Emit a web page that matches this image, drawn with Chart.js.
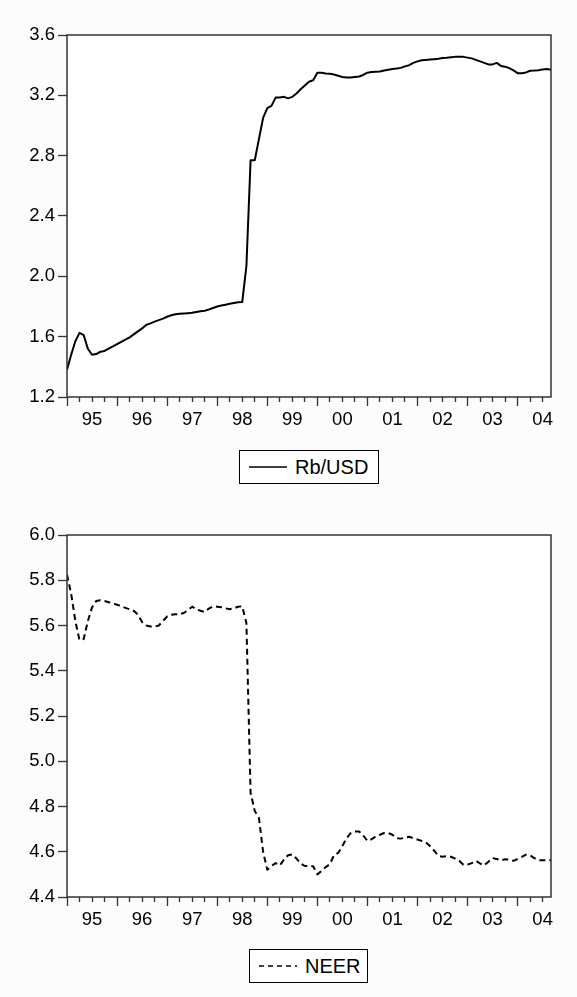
<!DOCTYPE html>
<html>
<head>
<meta charset="utf-8">
<script src="https://cdn.jsdelivr.net/npm/chart.js@4.4.1/dist/chart.umd.min.js"></script>
<style>
  html, body { margin: 0; padding: 0; background: #fcfcfc; }
  body { width: 577px; height: 997px; position: relative; overflow: hidden; font-family: "Liberation Sans", Arial, sans-serif; }
  .box { position: absolute; width: 577px; height: 440px; left: 0; }
  .legend { position: absolute; height: 32px; border: 1px solid #000; background: #fff; display: flex; align-items: center; font-size: 20px; color: #000; box-sizing: border-box; }
  .legend svg { margin-left: 9px; margin-right: 8px; }
</style>
</head>
<body>
<div class="box" style="top:0"><canvas id="rbChart"></canvas></div>
<div class="legend" style="top:450px; left:239px; width:140px; height:34px;">
  <svg width="38" height="4"><line x1="0" y1="2" x2="38" y2="2" stroke="#000" stroke-width="1.4"/></svg><span>Rb/USD</span>
</div>
<div class="box" style="top:500px"><canvas id="neerChart"></canvas></div>
<div class="legend" style="top:949px; left:249px; width:119px; height:34px;">
  <svg width="38" height="4"><line x1="0" y1="2" x2="38" y2="2" stroke="#000" stroke-width="1.4" stroke-dasharray="5,4"/></svg><span>NEER</span>
</div>
<script>
// monthly observations, 1995M01 .. 2004M09
const yearLabels = ['95', '96', '97', '98', '99', '00', '01', '02', '03', '04'];

const rbUsd = [
  1.38, 1.48, 1.57, 1.625, 1.61, 1.52, 1.48, 1.485, 1.50, 1.505, 1.52, 1.535,
  1.55, 1.565, 1.58, 1.595, 1.615, 1.635, 1.655, 1.678, 1.688, 1.70, 1.71, 1.72,
  1.732, 1.742, 1.748, 1.752, 1.754, 1.756, 1.758, 1.764, 1.768, 1.772, 1.78, 1.79,
  1.80, 1.806, 1.812, 1.818, 1.823, 1.828, 1.83, 2.07, 2.77, 2.77, 2.91, 3.05,
  3.115, 3.13, 3.185, 3.185, 3.19, 3.18, 3.19, 3.212, 3.24, 3.265, 3.29, 3.30,
  3.35, 3.35, 3.345, 3.343, 3.338, 3.33, 3.322, 3.318, 3.318, 3.322, 3.325, 3.335,
  3.35, 3.355, 3.357, 3.358, 3.365, 3.37, 3.375, 3.378, 3.382, 3.392, 3.40, 3.415,
  3.425, 3.432, 3.435, 3.438, 3.44, 3.442, 3.447, 3.449, 3.452, 3.455, 3.456, 3.455,
  3.45, 3.445, 3.435, 3.425, 3.415, 3.405, 3.405, 3.415, 3.395, 3.39, 3.38, 3.365,
  3.347, 3.347, 3.352, 3.363, 3.364, 3.367, 3.372, 3.374, 3.369
];

const neer = [
  5.825, 5.74, 5.62, 5.535, 5.54, 5.62, 5.68, 5.708, 5.712, 5.708, 5.703, 5.698,
  5.692, 5.686, 5.678, 5.672, 5.665, 5.648, 5.615, 5.60, 5.596, 5.595, 5.60, 5.62,
  5.64, 5.648, 5.65, 5.65, 5.655, 5.668, 5.683, 5.672, 5.665, 5.66, 5.675, 5.685,
  5.683, 5.681, 5.676, 5.672, 5.676, 5.683, 5.685, 5.61, 4.86, 4.78, 4.75, 4.60,
  4.52, 4.537, 4.55, 4.54, 4.565, 4.585, 4.588, 4.57, 4.548, 4.537, 4.537, 4.536,
  4.50, 4.515, 4.532, 4.545, 4.585, 4.595, 4.625, 4.66, 4.682, 4.69, 4.69, 4.672,
  4.648, 4.655, 4.668, 4.675, 4.683, 4.683, 4.675, 4.66, 4.658, 4.662, 4.666, 4.66,
  4.654, 4.648, 4.642, 4.625, 4.605, 4.582, 4.578, 4.58, 4.578, 4.57, 4.56, 4.543,
  4.543, 4.55, 4.56, 4.548, 4.54, 4.556, 4.572, 4.568, 4.562, 4.567, 4.565, 4.56,
  4.568, 4.577, 4.587, 4.584, 4.572, 4.563, 4.562, 4.562, 4.562
];

const rbTicks = { min: 1.2, max: 3.6, step: 0.4 };
const neerTicks = { min: 4.4, max: 6.0, step: 0.2 };

const tickFont = { family: '"Liberation Sans", Arial, sans-serif', size: 18.5 };

// white plot area + box frame
const framePlugin = {
  id: 'frame',
  beforeDraw(chart) {
    const { ctx, chartArea: a } = chart;
    ctx.save();
    ctx.fillStyle = '#fff';
    ctx.fillRect(a.left, a.top, a.right - a.left, a.bottom - a.top);
    ctx.restore();
  },
  afterDraw(chart) {
    const { ctx, chartArea: a } = chart;
    ctx.save();
    ctx.strokeStyle = '#333';
    ctx.lineWidth = 1.5;
    ctx.strokeRect(a.left, a.top, a.right - a.left, a.bottom - a.top);
    ctx.restore();
  }
};

function makeChart(id, values, yt, dash) {
  const n = values.length;
  return new Chart(document.getElementById(id), {
    type: 'line',
    data: {
      datasets: [{
        data: values.map((v, i) => ({ x: i, y: v })),
        borderColor: '#000',
        borderWidth: 2,
        borderDash: dash,
        pointRadius: 0,
        tension: 0,
        borderJoinStyle: 'round'
      }]
    },
    options: {
      responsive: true,
      maintainAspectRatio: false,
      animation: false,
      events: [],
      layout: { padding: { top: 35, right: 26, left: 0, bottom: 0 } },
      plugins: { legend: { display: false }, tooltip: { enabled: false } },
      scales: {
        x: {
          type: 'linear',
          min: 0,
          max: n - 1,
          afterBuildTicks: (axis) => {
            const t = [];
            for (let i = 0; i < n; i += 3) t.push({ value: i });
            axis.ticks = t;
          },
          afterFit: (axis) => { axis.height = 43; },
          grid: {
            drawOnChartArea: false,
            tickLength: 9,
            tickColor: '#333',
            tickWidth: 1.3,
            tickBorderDash: (ctx) => (ctx.tick && ctx.tick.value % 12 === 0) ? [] : [5, 30]
          },
          border: { display: false },
          ticks: {
            autoSkip: false,
            maxRotation: 0,
            padding: 3,
            color: '#000',
            font: tickFont,
            callback: (v) => (v % 12 === 6) ? yearLabels[(v - 6) / 12] : ''
          }
        },
        y: {
          min: yt.min,
          max: yt.max,
          afterFit: (axis) => { axis.width = 67; },
          grid: { drawOnChartArea: false, tickLength: 9, tickColor: '#333', tickWidth: 1.3 },
          border: { display: false },
          ticks: {
            stepSize: yt.step,
            padding: 3,
            color: '#000',
            font: tickFont,
            callback: (v) => Number(v).toFixed(1)
          }
        }
      }
    },
    plugins: [framePlugin]
  });
}

makeChart('rbChart', rbUsd, rbTicks, []);
makeChart('neerChart', neer, neerTicks, [6, 4]);
</script>
</body>
</html>
